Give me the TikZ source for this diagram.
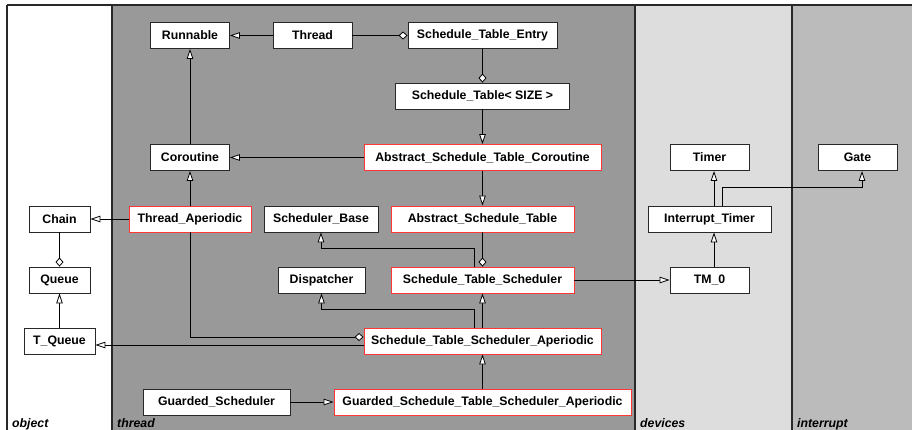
\documentclass[tikz,border=0pt]{standalone}
\usepackage{fontspec}
\setmainfont{Liberation Sans}
\usetikzlibrary{arrows.meta}
\definecolor{threadbg}{RGB}{153,153,153}
\definecolor{devbg}{RGB}{221,221,221}
\definecolor{intbg}{RGB}{187,187,187}
\definecolor{redline}{RGB}{255,55,55}
\definecolor{frameline}{RGB}{40,40,40}
\tikzset{
  cls/.style={draw=frameline, fill=white, line width=0.9pt, inner sep=0pt,
    minimum height=26pt, font=\fontsize{12.3}{14}\selectfont\bfseries},
  redcls/.style={cls, draw=redline},
  inh/.style={line width=0.9pt, -{Triangle[length=10pt,width=6.5pt,fill=white,line width=0.8pt]}},
  agg/.style={line width=0.9pt, -{Diamond[length=9pt,width=8pt,fill=white,line width=0.8pt]}},
  pkglabel/.style={anchor=base west, inner sep=0pt, font=\fontsize{12.3}{14}\selectfont\bfseries\itshape},
  panelline/.style={draw=frameline, line width=1.2pt}
}
\begin{document}
\begin{tikzpicture}[x=1pt,y=-1pt]
\useasboundingbox (0,0) rectangle (912,430);
% panels
\fill[white] (7,5) rectangle (112,430);
\fill[threadbg] (112,5) rectangle (635,430);
\fill[devbg] (635,5) rectangle (792,430);
\fill[intbg] (792,5) rectangle (912,430);
\draw[panelline] (7,5) -- (912,5);
\draw[panelline] (7,5) -- (7,430);
\draw[panelline] (112,5) -- (112,430);
\draw[panelline] (635,5) -- (635,430);
\draw[panelline] (792,5) -- (792,430);
\node[pkglabel] (lobject) at (12,427) {object};
\node[pkglabel] (lthread) at (117,427) {thread};
\node[pkglabel] (ldevices) at (640,427) {devices};
\node[pkglabel] (linterrupt) at (797,427) {interrupt};
% nodes
\node[cls, minimum width=79pt] (runnable) at (190,35.5) {Runnable};
\node[cls, minimum width=79pt] (thread) at (312.5,35.5) {Thread};
\node[cls, minimum width=149pt] (ste) at (482.5,35.5) {Schedule\_Table\_Entry};
\node[cls, minimum width=174pt] (st) at (482.5,96) {Schedule\_Table< SIZE >};
\node[redcls, minimum width=237pt] (astc) at (482.5,157.5) {Abstract\_Schedule\_Table\_Coroutine};
\node[cls, minimum width=79pt] (coroutine) at (190,157.5) {Coroutine};
\node[cls, minimum width=61pt] (chain) at (59.5,219) {Chain};
\node[redcls, minimum width=122pt] (threadap) at (190,219) {Thread\_Aperiodic};
\node[cls, minimum width=114pt] (schedbase) at (321,219) {Scheduler\_Base};
\node[redcls, minimum width=183pt] (ast) at (482.5,219) {Abstract\_Schedule\_Table};
\node[cls, minimum width=79pt] (timer) at (709.5,157.5) {Timer};
\node[cls, minimum width=79pt] (gate) at (857.5,157.5) {Gate};
\node[cls, minimum width=123pt] (inttimer) at (709.5,219) {Interrupt\_Timer};
\node[cls, minimum width=61pt] (queue) at (59.5,280) {Queue};
\node[cls, minimum width=87pt] (dispatcher) at (321.5,280) {Dispatcher};
\node[redcls, minimum width=183pt] (sts) at (482.5,280) {Schedule\_Table\_Scheduler};
\node[cls, minimum width=79pt] (tm0) at (709.5,280) {TM\_0};
\node[cls, minimum width=71pt] (tqueue) at (59.5,341) {T\_Queue};
\node[redcls, minimum width=237pt] (stsa) at (482.5,341) {Schedule\_Table\_Scheduler\_Aperiodic};
\node[cls, minimum width=147pt] (gs) at (216.5,402) {Guarded\_Scheduler};
\node[redcls, minimum width=297pt] (gstsa) at (482.5,402) {Guarded\_Schedule\_Table\_Scheduler\_Aperiodic};
% connectors
\draw[inh] (thread.west) -- (runnable.east);
\draw[agg] (thread.east) -- (ste.west);
\draw[agg] (ste.south) -- (st.north);
\draw[inh] (st.south) -- (astc.north);
\draw[inh] (astc.west) -- (coroutine.east);
\draw[inh] (coroutine.north) -- (runnable.south);
\draw[inh] (astc.south) -- (ast.north);
\draw[agg] (ast.south) -- (sts.north);
\draw[inh] (threadap.north) -- (coroutine.south);
\draw[inh] (threadap.west) -- (chain.east);
\draw[agg] (chain.south) -- (queue.north);
\draw[inh] (tqueue.north) -- (queue.south);
\draw[inh] ([xshift=-8.5pt]sts.north) -- ++(0,-18) -| (schedbase.south);
\draw[inh] (sts.east) -- (tm0.west);
\draw[inh] ([xshift=4.5pt]tm0.north) -- ([xshift=4.5pt]inttimer.south);
\draw[inh] ([xshift=4.5pt]inttimer.north) -- ([xshift=4.5pt]timer.south);
\draw[inh] ([xshift=12.5pt]inttimer.north) -- ++(0,-18) -| ([xshift=4.5pt]gate.south);
\draw[inh] (stsa.north) -- (sts.south);
\draw[inh] ([xshift=-8.5pt]stsa.north) -- ++(0,-18) -| (dispatcher.south);
\draw[agg] (threadap.south) |- ([yshift=4pt]stsa.west);
\draw[inh] ([yshift=-4pt]stsa.west) -- ([yshift=-4pt]tqueue.east);
\draw[inh] (gs.east) -- (gstsa.west);
\draw[inh] (gstsa.north) -- (stsa.south);
\end{tikzpicture}
\end{document}
